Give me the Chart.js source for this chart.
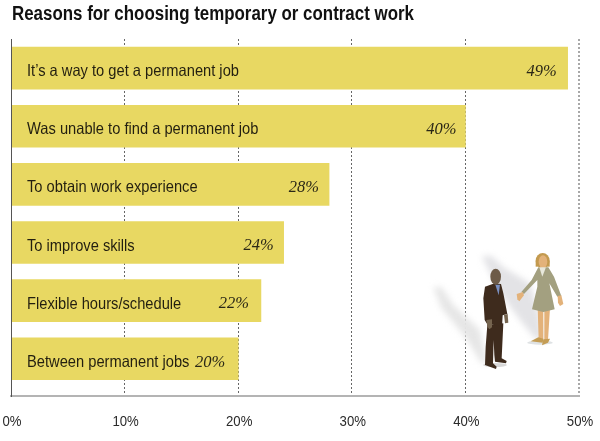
<!DOCTYPE html>
<html><head><meta charset="utf-8">
<style>html,body{margin:0;padding:0;background:#fff}canvas{display:block}</style>
<script src="https://cdn.jsdelivr.net/npm/chart.js@4"></script></head>
<body><canvas id="c" width="600" height="441"></canvas>
<script>
const chartTitle = "Reasons for choosing temporary or contract work";
const categories = ["It\u2019s a way to get a permanent job","Was unable to find a permanent job","To obtain work experience","To improve skills","Flexible hours/schedule","Between permanent jobs"];
const values = [49,40,28,24,22,20];
const tickValues = [0,10,20,30,40,50];
const valueLabelInset = [11,9,10,10,12,13];
const SANS = '"Liberation Sans",sans-serif';

function narrowText(ctx,text,x,y,sx,align){
  ctx.save(); ctx.translate(x,y); ctx.scale(sx,1); ctx.textAlign=align; ctx.fillText(text,0,0); ctx.restore();
}
function poly(ctx, color, pts){
  ctx.fillStyle = color; ctx.beginPath();
  pts.forEach((p,i)=> i ? ctx.lineTo(p[0],p[1]) : ctx.moveTo(p[0],p[1]));
  ctx.closePath(); ctx.fill();
}
function oval(ctx,color,x,y,rx,ry){ctx.fillStyle=color;ctx.beginPath();ctx.ellipse(x,y,rx,ry,0,0,Math.PI*2);ctx.fill();}

const illustration = {
  id:'illustration',
  beforeDatasetsDraw(chart){
    const ctx = chart.ctx; ctx.save();
    ctx.translate(400,230); ctx.scale(1/3,1/3);
    ctx.filter='blur(3px)';
    poly(ctx,'#e6e6e6',[[100,172],[125,172],[160,225],[240,300],[262,400],[245,400],[195,320],[125,235]]);
    poly(ctx,'#e3e3e6',[[245,78],[275,78],[310,112],[390,160],[420,260],[430,335],[405,325],[360,270],[300,190]]);
    ctx.filter='none';
    oval(ctx,'#dfe2e4',420,338,38,6);
    oval(ctx,'#d8d8d8',285,405,36,6);
    // woman
    poly(ctx,'#e3b27a',[[413,235],[430,235],[430,328],[416,328]]);
    poly(ctx,'#e3b27a',[[433,235],[450,235],[444,330],[433,330]]);
    poly(ctx,'#c49d55',[[392,334],[415,322],[430,326],[428,338]]);
    poly(ctx,'#c49d55',[[426,346],[430,328],[450,326],[444,338]]);
    poly(ctx,'#a3a080',[[415,112],[445,112],[462,140],[484,198],[472,200],[448,160],[464,238],[430,246],[396,238],[412,170],[412,150],[372,192],[364,186],[395,150]]);
    poly(ctx,'#e3b27a',[[350,192],[368,186],[372,196],[358,214],[352,208]]);
    poly(ctx,'#e3b27a',[[473,198],[484,196],[490,222],[480,228],[474,218]]);
    oval(ctx,'#c39a4f',428,92,21,23);
    poly(ctx,'#c39a4f',[[407,92],[449,92],[449,110],[407,110]]);
    oval(ctx,'#e3b27a',429,95,13,19);
    poly(ctx,'#e8e8dc',[[418,112],[438,112],[427,140]]);
    // man
    poly(ctx,'#3e2b1d',[[262,285],[310,280],[305,385],[320,393],[318,400],[285,395],[283,375],[281,330],[279,400],[290,410],[288,417],[255,405],[257,350]]);
    poly(ctx,'#3e2b1d',[[255,170],[284,160],[303,162],[310,190],[322,252],[308,256],[306,290],[260,280],[254,270],[250,205]]);
    poly(ctx,'#7a8fc0',[[286,164],[300,164],[296,196]]);
    oval(ctx,'#6d5b48',287,140,16,24);
    poly(ctx,'#75644f',[[259,270],[276,268],[276,292],[268,298],[262,290]]);
    poly(ctx,'#75644f',[[312,255],[323,252],[325,278],[315,280]]);
    ctx.restore();
  }
};

const chartText = {
  id:'chartText',
  afterDraw(chart){
    const ctx = chart.ctx, x = chart.scales.x, y = chart.scales.y;
    ctx.save(); ctx.textBaseline='middle';
    ctx.font='bold 20px '+SANS; ctx.fillStyle='#111';
    narrowText(ctx,chartTitle,12,14,0.845,'left');
    categories.forEach((label,i)=>{
      const py = y.getPixelForValue(i);
      ctx.font = '16.5px '+SANS; ctx.fillStyle='#231f10';
      narrowText(ctx,label,27,py+3.5,0.89,'left');
      ctx.font = 'italic 16.5px "Liberation Serif",serif'; ctx.fillStyle='#2a2716'; ctx.textAlign='right';
      ctx.fillText(values[i]+'%', x.getPixelForValue(values[i])-valueLabelInset[i], py+3.5);
    });
    ctx.font='15.5px '+SANS; ctx.fillStyle='#2a2a2a';
    tickValues.forEach(v=>{
      const px = v===0 ? x.getPixelForValue(v)+1 : x.getPixelForValue(v)+1;
      narrowText(ctx,v+'%',px,422,0.85,'center');
    });
    ctx.restore();
  }
};

new Chart(document.getElementById('c'),{
  type:'bar',
  data:{labels:categories,datasets:[{data:values.map((v,i)=>({x:v,y:i})),backgroundColor:'#e8d862',borderWidth:0,barThickness:42}]},
  options:{
    indexAxis:'y',responsive:false,animation:false,devicePixelRatio:1,
    layout:{padding:{left:11,right:21,top:39,bottom:45}},
    plugins:{legend:{display:false},tooltip:{enabled:false}},
    scales:{
      x:{type:'linear',min:0,max:50,
        ticks:{stepSize:10,display:false},
        grid:{drawTicks:false,color:c=>c.tick.value===0?'rgba(0,0,0,0)':(c.tick.value===50?'#a8a8a8':'#666'),lineWidth:c=>c.tick.value===50?2:1},
        border:{color:'#b4b4b4',width:2,dash:[2,2]}},
      y:{type:'linear',reverse:true,min:-0.5,max:5.64,offset:false,
        ticks:{display:false},grid:{display:false,drawTicks:false},
        afterFit(s){s.width=0;},
        border:{color:'#555',width:1,z:1}}
    }
  },
  plugins:[illustration,chartText]
});
</script></body></html>
